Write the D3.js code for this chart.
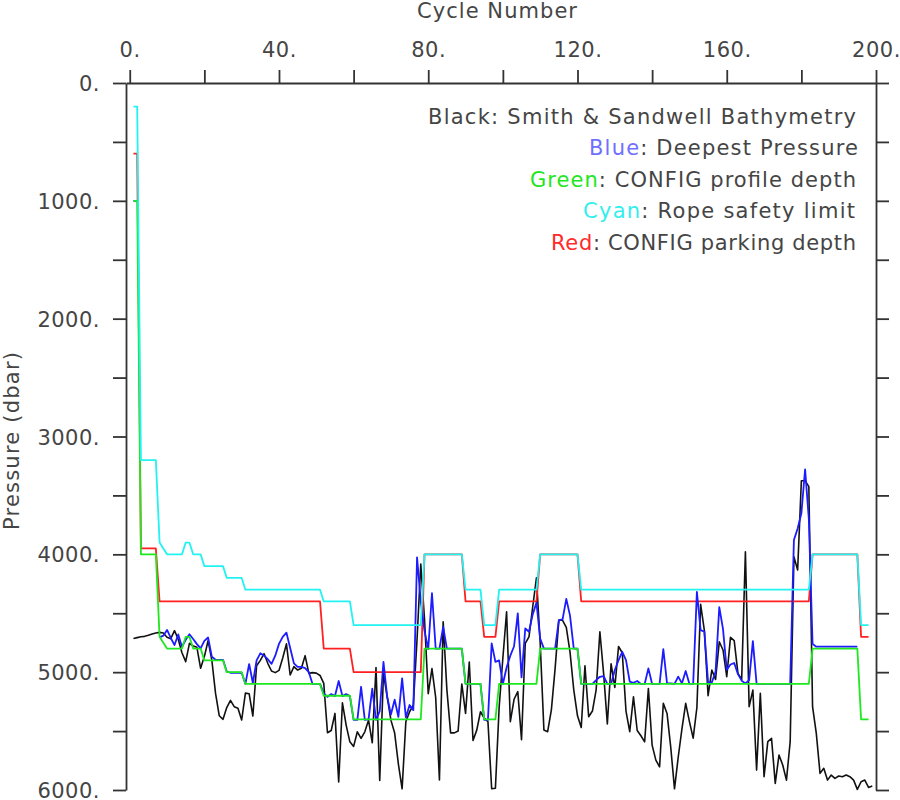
<!DOCTYPE html>
<html>
<head>
<meta charset="utf-8">
<script src="https://cdn.jsdelivr.net/npm/d3@7"></script>
<style>
  html, body { margin: 0; padding: 0; background: #ffffff; }
  svg { display: block; }
  text { font-family: "DejaVu Sans", "Liberation Sans", sans-serif; }
</style>
</head>
<body>
<svg id="chart" width="900" height="800"></svg>
<script>
// ---------------- DATA (cycle 1, 2, 3, ...) ----------------
const xTickValues = [0, 20, 40, 60, 80, 100, 120, 140, 160, 180, 200];
const xTickLabels = ["0.", "", "40.", "", "80.", "", "120.", "", "160.", "", "200."];
const yTickValues = [0, 500, 1000, 1500, 2000, 2500, 3000, 3500, 4000, 4500, 5000, 5500, 6000];
const yTickLabels = ["0.", "", "1000.", "", "2000.", "", "3000.", "", "4000.", "", "5000.", "", "6000."];

// Black: Smith & Sandwell bathymetry (cycles 1..199)
const bathymetry = [
4715,4707,4699,4696,4687,4676,4668,4662,4668,4704,
4716,4648,4721,4835,4911,4755,4778,4789,4967,4868,
4733,4897,5180,5370,5400,5300,5240,5293,5307,5406,
5178,5183,5372,4945,4900,4843,4925,4990,5004,4985,
4880,4760,5024,4953,4982,4967,4860,5010,5004,5008,
5028,5095,5514,5495,5350,5932,5260,5449,5591,5630,
5506,5562,5506,5407,5599,4960,5920,5011,5209,5407,
5517,5780,5990,5420,5336,5280,4720,4083,4550,5183,
4970,5215,5915,4572,5150,5515,5515,5500,5100,5350,
4915,5580,5492,5336,5390,5420,5990,5985,5300,4880,
4487,5420,5230,5165,5573,4756,4700,4445,4200,4750,
5490,5505,5320,4970,4560,4560,4620,4830,5150,5370,
5470,4945,5378,5330,5150,4657,5010,5440,4928,5130,
4782,4835,5330,5505,5209,5495,5540,5591,5138,5619,
5746,5803,5265,5350,5640,5990,5720,5480,5265,5420,
5560,5300,4425,4645,5200,4982,5061,4742,4812,5039,
4705,4733,5010,5061,3978,5293,5152,5831,5180,5887,
5590,5562,5944,5703,5788,5916,5590,4020,4133,3375,
3375,3426,5293,5519,5859,5816,5916,5873,5901,5881,
5887,5873,5887,5916,5995,5930,5916,5978,5967
];

// Blue: deepest pressure (cycles 1..195, null = not reported)
const deepestPressure = [
1000,1000,null,null,null,null,null,4705,4690,4642,
4710,4770,4680,4785,4725,4678,4718,4762,4798,4735,
4706,4868,4895,4895,4895,4995,5005,5005,5005,5005,
5100,4931,5092,4900,4840,4860,4890,4930,4860,4760,
4700,4665,4795,4925,4955,4955,4965,5000,5100,5100,
5100,5180,5209,5186,5203,5075,5203,5186,5203,5405,
5405,5124,5405,5400,5140,5405,5330,4912,5209,5360,
5234,5380,5053,5385,5279,5322,4026,4400,4650,4805,
4330,4800,4800,4615,4800,4800,4800,4800,4800,5100,
5100,5100,5100,5100,5405,5405,4756,4912,4900,5100,
4960,4860,4780,4501,5045,4629,4657,4510,4410,4714,
4800,4800,4800,4800,4558,4552,4378,4520,4800,4800,
5100,5100,5100,5100,5067,5039,5033,5100,5100,4982,
4898,4827,4898,5080,5090,5075,5100,5100,4968,5100,
5100,5100,4805,5095,5095,5100,5038,5095,4990,5100,
5100,4318,4643,4656,5087,5087,4996,4448,4635,4980,
4935,4922,5017,5072,5095,5067,4737,5100,5100,5100,
5100,5100,5100,5100,5100,5100,5100,3879,3780,3652,
3279,3700,4760,4784,4784,4784,4784,4784,4784,4784,
4784,4784,4784,4784,4784
];

// Green: CONFIG profile depth (cycles 1..198)
const profileDepth = [
1000,1000,4000,4000,4000,4000,4000,4700,4750,4800,
4800,4800,4800,4800,4700,4700,4800,4800,4800,4900,
4900,4900,4900,4900,4900,5000,5000,5000,5000,5000,
5100,5100,5100,5100,5100,5100,5100,5100,5100,5100,
5100,5100,5100,5100,5100,5100,5100,5100,5100,5100,
5100,5200,5200,5200,5200,5200,5200,5200,5200,5400,
5400,5400,5400,5400,5400,5400,5400,5400,5400,5400,
5400,5400,5400,5400,5400,5400,5400,5400,4800,4800,
4800,4800,4800,4800,4800,4800,4800,4800,4800,5100,
5100,5100,5100,5100,5400,5400,5400,5400,5100,5100,
5100,5100,5100,5100,5100,5100,5100,5100,5100,4800,
4800,4800,4800,4800,4800,4800,4800,4800,4800,4800,
5100,5100,5100,5100,5100,5100,5100,5100,5100,5100,
5100,5100,5100,5100,5100,5100,5100,5100,5100,5100,
5100,5100,5100,5100,5100,5100,5100,5100,5100,5100,
5100,5100,5100,5100,5100,5100,5100,5100,5100,5100,
5100,5100,5100,5100,5100,5100,5100,5100,5100,5100,
5100,5100,5100,5100,5100,5100,5100,5100,5100,5100,
5100,5100,4800,4800,4800,4800,4800,4800,4800,4800,
4800,4800,4800,4800,4800,5400,5400,5400
];

// Cyan: rope safety limit (cycles 1..198)
const ropeLimit = [
200,200,3200,3200,3200,3200,3200,3900,3950,4000,
4000,4000,4000,4000,3900,3900,4000,4000,4000,4100,
4100,4100,4100,4100,4100,4200,4200,4200,4200,4200,
4300,4300,4300,4300,4300,4300,4300,4300,4300,4300,
4300,4300,4300,4300,4300,4300,4300,4300,4300,4300,
4300,4400,4400,4400,4400,4400,4400,4400,4400,4600,
4600,4600,4600,4600,4600,4600,4600,4600,4600,4600,
4600,4600,4600,4600,4600,4600,4600,4600,4000,4000,
4000,4000,4000,4000,4000,4000,4000,4000,4000,4300,
4300,4300,4300,4300,4600,4600,4600,4600,4300,4300,
4300,4300,4300,4300,4300,4300,4300,4300,4300,4000,
4000,4000,4000,4000,4000,4000,4000,4000,4000,4000,
4300,4300,4300,4300,4300,4300,4300,4300,4300,4300,
4300,4300,4300,4300,4300,4300,4300,4300,4300,4300,
4300,4300,4300,4300,4300,4300,4300,4300,4300,4300,
4300,4300,4300,4300,4300,4300,4300,4300,4300,4300,
4300,4300,4300,4300,4300,4300,4300,4300,4300,4300,
4300,4300,4300,4300,4300,4300,4300,4300,4300,4300,
4300,4300,4000,4000,4000,4000,4000,4000,4000,4000,
4000,4000,4000,4000,4000,4600,4600,4600
];

// Red: CONFIG parking depth (cycles 1..198)
const parkingDepth = [
600,600,3950,3950,3950,3950,3950,4400,4400,4400,
4400,4400,4400,4400,4400,4400,4400,4400,4400,4400,
4400,4400,4400,4400,4400,4400,4400,4400,4400,4400,
4400,4400,4400,4400,4400,4400,4400,4400,4400,4400,
4400,4400,4400,4400,4400,4400,4400,4400,4400,4400,
4400,4800,4800,4800,4800,4800,4800,4800,4800,5000,
5000,5000,5000,5000,5000,5000,5000,5000,5000,5000,
5000,5000,5000,5000,5000,5000,5000,5000,4000,4000,
4000,4000,4000,4000,4000,4000,4000,4000,4000,4400,
4400,4400,4400,4400,4700,4700,4700,4700,4400,4400,
4400,4400,4400,4400,4400,4400,4400,4400,4400,4000,
4000,4000,4000,4000,4000,4000,4000,4000,4000,4000,
4400,4400,4400,4400,4400,4400,4400,4400,4400,4400,
4400,4400,4400,4400,4400,4400,4400,4400,4400,4400,
4400,4400,4400,4400,4400,4400,4400,4400,4400,4400,
4400,4400,4400,4400,4400,4400,4400,4400,4400,4400,
4400,4400,4400,4400,4400,4400,4400,4400,4400,4400,
4400,4400,4400,4400,4400,4400,4400,4400,4400,4400,
4400,4400,4000,4000,4000,4000,4000,4000,4000,4000,
4000,4000,4000,4000,4000,4700,4700,4700
];

const legendRows = [
  { key: "Black", rest: ": Smith & Sandwell Bathymetry", keyColor: "#454545" },
  { key: "Blue",  rest: ": Deepest Pressure",            keyColor: "#7070ff" },
  { key: "Green", rest: ": CONFIG profile depth",        keyColor: "#22e622" },
  { key: "Cyan",  rest: ": Rope safety limit",           keyColor: "#33eeee" },
  { key: "Red",   rest: ": CONFIG parking depth",        keyColor: "#ff2a2a" }
];

// ---------------- LAYOUT ----------------
const svg = d3.select("#chart");
const plotL = 126, plotR = 876, plotT = 83, plotB = 790;
const axisColor = "#333333";
const textColor = "#454545";
const fontSize = 21;

const x = d3.scaleLinear().domain([-1, 200]).range([plotL, plotR]);
const y = d3.scaleLinear().domain([0, 6000]).range([plotT, plotB]);

svg.append("defs").append("clipPath").attr("id", "plotclip")
  .append("rect").attr("x", plotL).attr("y", plotT - 1)
  .attr("width", plotR - plotL).attr("height", plotB - plotT + 2);

// ---------------- SERIES ----------------
const lineGen = d3.line()
  .defined(d => d[1] !== null)
  .x(d => x(d[0]))
  .y(d => y(d[1]));

function series(arr) { return arr.map((v, i) => [i + 1, v]); }

const plot = svg.append("g").attr("clip-path", "url(#plotclip)");
const seriesDefs = [
  { data: bathymetry,      color: "#111111", width: 1.6 },
  { data: parkingDepth,    color: "#ff2020", width: 1.8 },
  { data: deepestPressure, color: "#1c1cff", width: 1.8 },
  { data: profileDepth,    color: "#1ee81e", width: 1.8 },
  { data: ropeLimit,       color: "#22f2f2", width: 1.8 }
];
seriesDefs.forEach(s => {
  plot.append("path")
    .attr("d", lineGen(series(s.data)))
    .attr("fill", "none")
    .attr("stroke", s.color)
    .attr("stroke-width", s.width)
    .attr("stroke-linejoin", "round");
});

// ---------------- AXES ----------------
function styleAxis(g) {
  g.selectAll("path.domain").attr("stroke", axisColor).attr("stroke-width", 1.8);
  g.selectAll(".tick line").attr("stroke", axisColor).attr("stroke-width", 1.8);
  g.selectAll(".tick text")
    .attr("fill", textColor)
    .style("font-size", fontSize + "px")
    .style("font-family", "'DejaVu Sans', sans-serif");
}

const xAxis = d3.axisTop(x)
  .tickValues(xTickValues)
  .tickSize(13).tickSizeOuter(0).tickPadding(13)
  .tickFormat((d, i) => xTickLabels[i]);
svg.append("g").attr("transform", `translate(0,${plotT})`).call(xAxis).call(styleAxis)
  .selectAll(".tick text").attr("letter-spacing", "0.6px");

const yAxis = d3.axisLeft(y)
  .tickValues(yTickValues)
  .tickSize(13).tickSizeOuter(0).tickPadding(13)
  .tickFormat((d, i) => yTickLabels[i]);
svg.append("g").attr("transform", `translate(${plotL},0)`).call(yAxis).call(styleAxis)
  .selectAll(".tick text").attr("dy", "0.36em").attr("letter-spacing", "0.5px");

const yAxisR = d3.axisRight(y)
  .tickValues(yTickValues)
  .tickSize(13).tickSizeOuter(0)
  .tickFormat("");
svg.append("g").attr("transform", `translate(${plotR},0)`).call(yAxisR).call(styleAxis);

// ---------------- TITLES ----------------
svg.append("text")
  .attr("x", 417).attr("y", 18)
  .attr("textLength", 160).attr("lengthAdjust", "spacing")
  .attr("fill", textColor).style("font-size", fontSize + "px")
  .text("Cycle Number");

svg.append("text")
  .attr("transform", "translate(19,530) rotate(-90)")
  .attr("x", 0).attr("y", 0)
  .attr("textLength", 178).attr("lengthAdjust", "spacing")
  .attr("fill", textColor).style("font-size", fontSize + "px")
  .text("Pressure (dbar)");

// ---------------- LEGEND ----------------
const legendX = [428, 589, 530, 583, 551];
const legendW = [428, 269, 326, 272, 305];
const legendY = [124, 155, 187, 218, 250];
legendRows.forEach((r, i) => {
  const t = svg.append("text")
    .attr("x", legendX[i]).attr("y", legendY[i])
    .attr("textLength", legendW[i]).attr("lengthAdjust", "spacing")
    .style("font-size", fontSize + "px");
  t.append("tspan").attr("fill", r.keyColor).text(r.key);
  t.append("tspan").attr("fill", textColor).text(r.rest);
});
</script>
</body>
</html>
